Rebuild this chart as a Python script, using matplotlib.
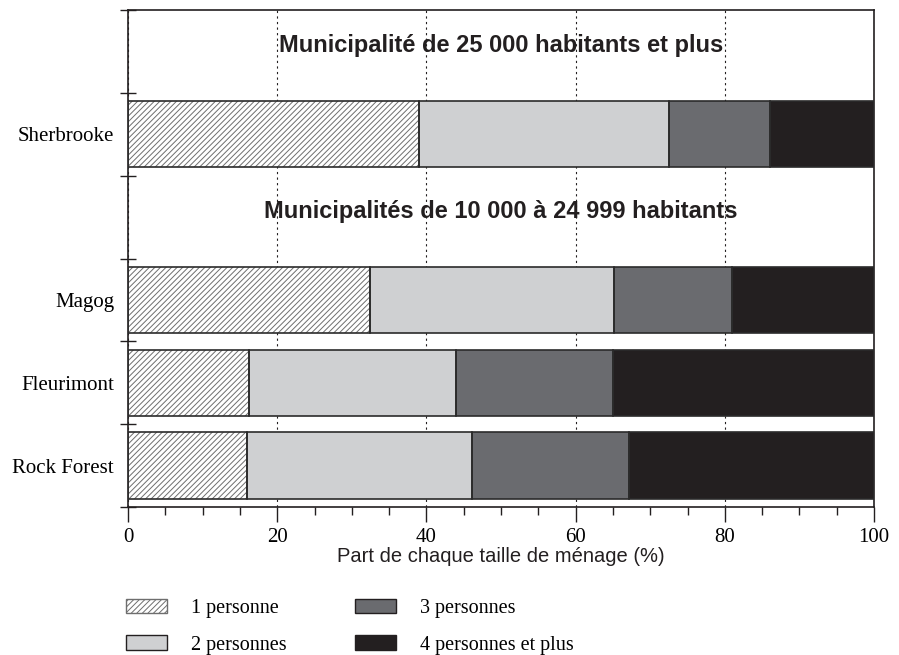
import numpy as np
import matplotlib
matplotlib.use("Agg")
import matplotlib.pyplot as plt
from matplotlib.patches import Patch
from matplotlib.ticker import MultipleLocator, FixedLocator

# data (% of households by size)
towns = ["Sherbrooke", "Magog", "Fleurimont", "Rock Forest"]
one_person = [39.0, 32.5, 16.2, 15.9]
two_persons = [33.5, 32.7, 27.8, 30.2]
three_persons = [13.5, 15.8, 21.0, 21.1]
four_plus = [14.0, 19.0, 35.0, 32.8]
series_labels = ["1 personne", "2 personnes", "3 personnes", "4 personnes et plus"]
headings = ["Municipalité de 25 000 habitants et plus",
            "Municipalités de 10 000 à 24 999 habitants"]
xticks = [0, 20, 40, 60, 80, 100]

# row layout: 0 heading, 1 Sherbrooke, 2 heading, 3 Magog, 4 Fleurimont, 5 Rock Forest
town_rows = [1, 3, 4, 5]
heading_rows = [0, 2]

serif = "Liberation Serif"
sans = "Liberation Sans"
dark = "#231f20"
hatch_col = "#6e6e6e"
colors = ["white", "#cfd0d2", "#6a6b6f", "#231f20"]

plt.rcParams["hatch.linewidth"] = 0.7

fig = plt.figure(figsize=(8.99, 6.55), dpi=100)
ax = fig.add_axes([128 / 899, 1 - 507 / 655, 746 / 899, 497 / 655])

rows = np.array(town_rows, dtype=float)
values = [one_person, two_persons, three_persons, four_plus]
left = np.zeros(len(towns))
for i, vals in enumerate(values):
    vals = np.array(vals)
    if i == 0:
        ax.barh(rows, vals, left=left, height=0.8, color="white",
                edgecolor=hatch_col, hatch="//////", linewidth=0, zorder=2)
    else:
        ax.barh(rows, vals, left=left, height=0.8, color=colors[i],
                linewidth=0, zorder=2)
    ax.barh(rows, vals, left=left, height=0.8, fill=False,
            edgecolor="#2b2b2b", linewidth=1.2, zorder=3)
    left += vals

# headings sit a little above the middle of their row
for r, txt in zip(heading_rows, headings):
    ax.text(50, r - 0.07, txt, ha="center", va="center", fontsize=17,
            fontweight="bold", family=sans, color=dark, zorder=4)

ax.set_xlim(0, 100)
ax.set_ylim(5.5, -0.5)

ax.xaxis.set_major_locator(FixedLocator(xticks))
ax.xaxis.set_minor_locator(MultipleLocator(5))
ax.set_xticklabels([str(t) for t in xticks], family=serif, fontsize=15)
ax.tick_params(axis="x", which="major", direction="out", length=11, width=1,
               color=dark, pad=4)
ax.tick_params(axis="x", which="minor", direction="out", length=6, width=1, color=dark)
ax.grid(axis="x", which="major", linestyle=(0, (2, 3)), color=dark,
        linewidth=0.8, zorder=0)

ax.yaxis.set_major_locator(FixedLocator(np.arange(-0.5, 6.0, 1.0)))
ax.yaxis.set_major_formatter(plt.NullFormatter())
ax.yaxis.set_minor_locator(FixedLocator(town_rows))
ax.set_yticklabels(towns, minor=True, family=serif, fontsize=15)
ax.tick_params(axis="y", which="major", direction="inout", length=12, width=1, color=dark)
ax.tick_params(axis="y", which="minor", length=0, pad=10)

for s in ax.spines.values():
    s.set_color(dark)
    s.set_linewidth(1.2)

ax.set_xlabel("Part de chaque taille de ménage (%)", family=sans, fontsize=14.5,
              labelpad=0, color=dark)

handles = [
    Patch(facecolor="white", edgecolor=hatch_col, hatch="//////", linewidth=1),
    Patch(facecolor=colors[1], edgecolor=dark, linewidth=1),
    Patch(facecolor=colors[2], edgecolor=dark, linewidth=1),
    Patch(facecolor=colors[3], edgecolor=dark, linewidth=1),
]
fig.legend(handles, series_labels, ncol=2, loc="upper left",
           bbox_to_anchor=(126 / 899, 1 - 599 / 655), frameon=False,
           borderpad=0, borderaxespad=0,
           prop={"family": serif, "size": 14.5}, handlelength=2.05,
           handleheight=0.72, handletextpad=1.2, columnspacing=3.35,
           labelspacing=0.85)

fig.savefig("out.png", dpi=100)
